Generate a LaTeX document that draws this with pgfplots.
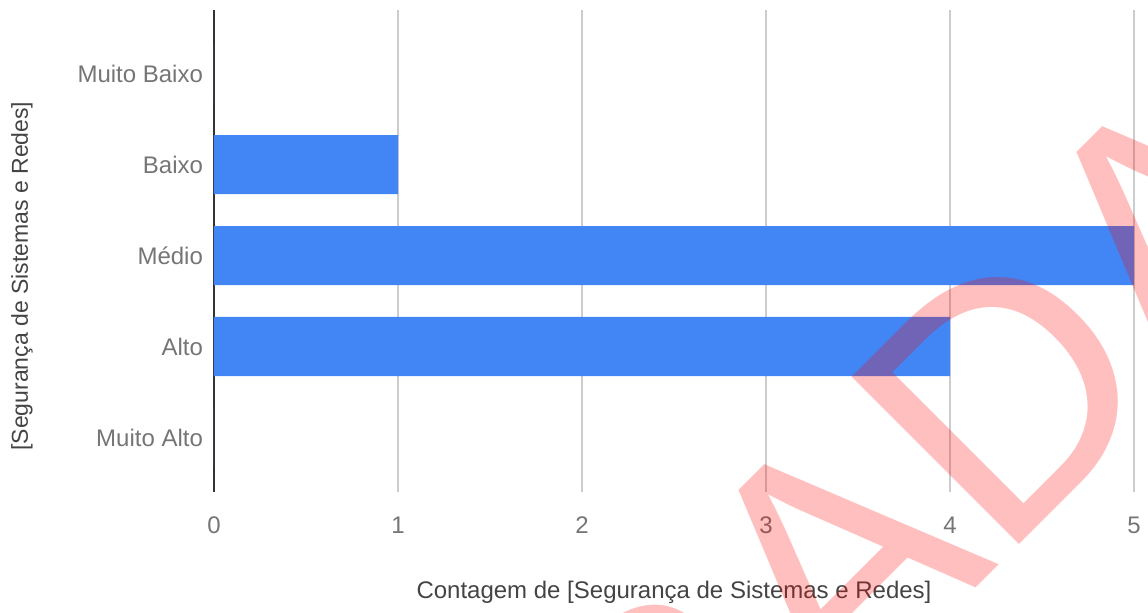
\documentclass[border=0pt]{standalone}
\usepackage{pgfplots}
\pgfplotsset{compat=1.18}
\usepackage{fontspec}
\setmainfont{Liberation Sans}
\definecolor{gblue}{HTML}{4285F4}
\definecolor{glabel}{HTML}{757575}
\definecolor{gtitle}{HTML}{444444}
\definecolor{ggrid}{HTML}{CCCCCC}
\begin{document}
\begin{tikzpicture}
\useasboundingbox (0,0) rectangle (574pt,306pt);
\begin{axis}[
  at={(107pt,60pt)}, anchor=south west,
  scale only axis, width=460pt, height=241pt,
  xbar, bar width=0.65,
  xmin=0, xmax=5, ymin=-0.7, ymax=4.6, y dir=reverse,
  xtick={0,1,2,3,4,5},
  ytick={0,1,2,3,4},
  yticklabels={Muito Baixo,Baixo,Médio,Alto,Muito Alto},
  axis line style={draw=none},
  major tick length=0pt,
  tick style={draw=none},
  xmajorgrids, grid style={ggrid, line width=0.6pt},
  extra x ticks={0}, extra x tick labels={},
  extra x tick style={grid style={black!80, line width=0.8pt}},
  /pgf/number format/assume math mode=true,
  tick label style={font=\fontsize{12}{14}\selectfont, text=glabel},
  xticklabel style={yshift=-9pt},
  yticklabel style={xshift=-2pt},
  every axis x label/.style={at={(rel axis cs:0.5,0)}, yshift=-50pt, anchor=center},
  every axis y label/.style={at={(rel axis cs:0,0.448)}, xshift=-96pt, rotate=90, anchor=center},
  label style={font=\fontsize{12}{14}\selectfont, text=gtitle},
  xlabel={Contagem de [Segurança de Sistemas e Redes]},
  ylabel={\fontsize{11.5}{14}\selectfont[Segurança de Sistemas e Redes]},
]
\addplot[fill=gblue, draw=none] coordinates {(0,0) (1,1) (5,2) (4,3) (0,4)};
\end{axis}
\begin{scope}
\clip (0,0) rectangle (574pt,306pt);
\node[rotate=45, anchor=base east, inner sep=0pt, text=red, text opacity=0.25,
  font=\fontsize{172}{172}\selectfont] at (669pt,193pt) {ERRADA};
\end{scope}
\end{tikzpicture}
\end{document}
